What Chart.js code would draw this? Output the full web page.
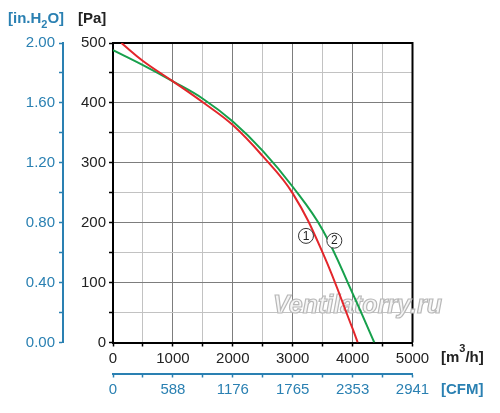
<!DOCTYPE html>
<html>
<head>
<meta charset="utf-8">
<script src="https://cdn.jsdelivr.net/npm/chart.js@4.4.1/dist/chart.umd.min.js"></script>
<style>
  html, body { margin: 0; padding: 0; background: #fff; }
</style>
</head>
<body>
<canvas id="fanChart" width="500" height="413"></canvas>
<script>
// curve 1 (red) and curve 2 (green): airflow [m3/h] vs pressure [Pa]
const flow1 = [140, 500, 1000, 1500, 2000, 2500, 3000, 3500, 4000, 4085];
const pa1   = [500, 470, 436, 401, 363, 311, 249, 150, 23, 0];
const flow2 = [0, 500, 1000, 1500, 2000, 2500, 3000, 3500, 4000, 4362];
const pa2   = [488, 463, 436, 407, 369, 320, 260, 188, 82, 0];

const paLabels   = ['0', '100', '200', '300', '400', '500'];
const inH2OLabels = ['0.00', '0.40', '0.80', '1.20', '1.60', '2.00'];
const flowLabels = ['0', '1000', '2000', '3000', '4000', '5000'];
const cfmLabels  = ['0', '588', '1176', '1765', '2353', '2941'];

const curveTags = ['1', '2'];
const tagFlow = [3222, 3695];
const tagPa = [178, 170];

const BLUE = '#2a80b2';
const FONT = '"Liberation Sans", Arial, sans-serif';

function pts(xs, ys) {
  return xs.map((x, i) => ({ x: x, y: ys[i] }));
}

function majorMinor(step, labels) {
  return function (v) {
    return v % step === 0 ? labels[v / step] : '';
  };
}

function gridColor(step) {
  return ctx => (ctx.tick && ctx.tick.value % step === 0) ? '#7d7d7d' : '#c2c2c2';
}

const decorations = {
  id: 'decorations',
  beforeDatasetsDraw(chart) {
    const c = chart.ctx, a = chart.chartArea;
    // frame top + right
    c.save();
    c.strokeStyle = '#000';
    c.lineWidth = 2;
    c.beginPath();
    c.moveTo(a.left, a.top);
    c.lineTo(a.right, a.top);
    c.lineTo(a.right, a.bottom);
    c.stroke();
    // watermark
    c.font = 'italic bold 25px ' + FONT;
    c.textBaseline = 'alphabetic';
    c.fillStyle = '#f6f6f6';
    c.strokeStyle = '#b8b8b8';
    c.lineWidth = 1.2;
    c.fillText('Ventilatorry.ru', a.left + 160, a.bottom - 30);
    c.strokeText('Ventilatorry.ru', a.left + 160, a.bottom - 30);
    c.restore();
  },
  afterDatasetsDraw(chart) {
    const c = chart.ctx;
    const xs = chart.scales.x, ys = chart.scales.y;
    c.save();
    curveTags.forEach((t, i) => {
      const px = xs.getPixelForValue(tagFlow[i]);
      const py = ys.getPixelForValue(tagPa[i]);
      c.beginPath();
      c.arc(px, py, 7.5, 0, Math.PI * 2);
      c.fillStyle = '#fff';
      c.fill();
      c.strokeStyle = '#333';
      c.lineWidth = 1;
      c.stroke();
      c.fillStyle = '#222';
      c.font = '12px ' + FONT;
      c.textAlign = 'center';
      c.textBaseline = 'middle';
      c.fillText(t, px, py + 0.5);
    });
    c.restore();
  },
  afterDraw(chart) {
    const c = chart.ctx;
    c.save();
    c.textBaseline = 'alphabetic';
    c.textAlign = 'left';
    // [in.H2O]
    let x = 8;
    c.fillStyle = BLUE;
    c.font = 'bold 15px ' + FONT;
    c.fillText('[in.H', x, 23);
    x += c.measureText('[in.H').width;
    c.font = 'bold 11px ' + FONT;
    c.fillText('2', x, 28);
    x += c.measureText('2').width;
    c.font = 'bold 15px ' + FONT;
    c.fillText('O]', x, 23);
    // [Pa]
    c.fillStyle = '#222';
    c.fillText('[Pa]', 78, 23);
    // [m3/h]
    x = 441;
    c.fillText('[m', x, 362);
    x += c.measureText('[m').width;
    c.font = 'bold 11px ' + FONT;
    c.fillText('3', x, 352);
    x += c.measureText('3').width;
    c.font = 'bold 15px ' + FONT;
    c.fillText('/h]', x, 362);
    // [CFM]
    c.fillStyle = BLUE;
    c.fillText('[CFM]', 441, 394);
    c.restore();
  }
};

new Chart(document.getElementById('fanChart'), {
  type: 'scatter',
  data: {
    datasets: [{
      label: '1',
      data: pts(flow1, pa1),
      borderColor: '#e3262b',
      borderWidth: 2,
      showLine: true,
      pointRadius: 0,
      tension: 0.4,
      xAxisID: 'x',
      yAxisID: 'y'
    }, {
      label: '2',
      data: pts(flow2, pa2),
      borderColor: '#17a04c',
      borderWidth: 2,
      showLine: true,
      pointRadius: 0,
      tension: 0.4,
      xAxisID: 'x',
      yAxisID: 'y'
    }]
  },
  options: {
    responsive: false,
    animation: false,
    devicePixelRatio: 1,
    layout: { padding: { left: 0, top: 43, right: 87.5, bottom: 9.5 } },
    plugins: { legend: { display: false }, tooltip: { enabled: false } },
    scales: {
      x: {
        type: 'linear', position: 'bottom', weight: 0,
        min: 0, max: 5000,
        ticks: { stepSize: 500, autoSkip: false, maxRotation: 0, padding: 3,
                 color: '#222', font: { size: 15, family: FONT },
                 callback: majorMinor(1000, flowLabels) },
        grid: { color: gridColor(1000), lineWidth: 1, tickLength: 4, tickColor: '#000', tickWidth: 1.5 },
        border: { color: '#000', width: 2 },
        afterFit: s => { s.height = 31; }
      },
      x2: {
        type: 'linear', position: 'bottom', weight: 1,
        min: 0, max: 5000,
        ticks: { stepSize: 500, autoSkip: false, maxRotation: 0, padding: 3,
                 color: BLUE, font: { size: 15, family: FONT },
                 callback: majorMinor(1000, cfmLabels) },
        grid: { drawOnChartArea: false, color: BLUE, tickLength: 4, tickWidth: 1.5 },
        border: { color: BLUE, width: 2 },
        afterFit: s => { s.height = 30; }
      },
      y: {
        type: 'linear', position: 'left', weight: 0,
        min: 0, max: 500,
        ticks: { stepSize: 50, autoSkip: false, padding: 3,
                 color: '#222', font: { size: 15, family: FONT },
                 callback: majorMinor(100, paLabels) },
        grid: { color: gridColor(100), lineWidth: 1, tickLength: 4, tickColor: '#000', tickWidth: 1.5 },
        border: { color: '#000', width: 2 },
        afterFit: s => { s.width = 50; }
      },
      y2: {
        type: 'linear', position: 'left', weight: 1,
        min: 0, max: 500,
        ticks: { stepSize: 50, autoSkip: false, padding: 4,
                 color: BLUE, font: { size: 15, family: FONT },
                 callback: majorMinor(100, inH2OLabels) },
        grid: { drawOnChartArea: false, color: BLUE, tickLength: 4, tickWidth: 1.5 },
        border: { color: BLUE, width: 2 },
        afterFit: s => { s.width = 63; }
      }
    }
  },
  plugins: [decorations]
});
</script>
</body>
</html>
